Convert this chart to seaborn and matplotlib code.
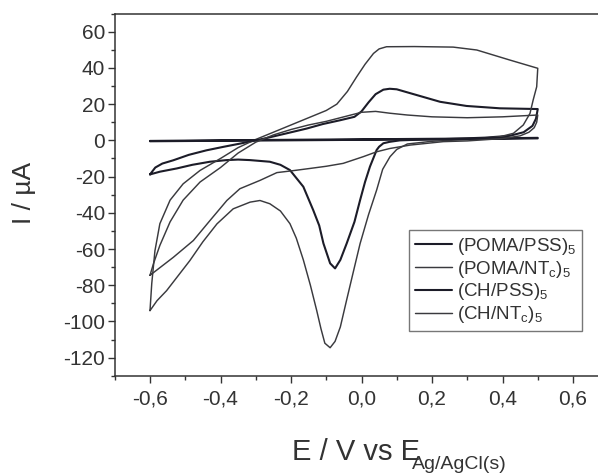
import numpy as np
import pandas as pd
import matplotlib
matplotlib.use("Agg")
import matplotlib.pyplot as plt
from matplotlib.ticker import MultipleLocator, FixedLocator, FuncFormatter
import seaborn as sns

# ---------------- data ----------------
# (POMA/PSS)5 : oxidation peak ~28 uA, reduction peak ~ -70 uA
poma_pss_E = [-0.60, -0.585, -0.565, -0.534, -0.49, -0.44, -0.39, -0.345, -0.30, -0.269,
              -0.21, -0.156, -0.11, -0.061, -0.02, 0.0, 0.02, 0.04, 0.062, 0.08, 0.10,
              0.157, 0.223, 0.298, 0.393, 0.50,
              0.495, 0.485, 0.46, 0.42, 0.35, 0.25, 0.138, 0.109, 0.08, 0.062, 0.05,
              0.043, 0.024, 0.01, -0.004, -0.02, -0.042, -0.06, -0.075, -0.089, -0.108,
              -0.12, -0.137, -0.165, -0.203, -0.23, -0.26, -0.316, -0.35, -0.383, -0.43,
              -0.48, -0.524, -0.572, -0.60]
poma_pss_I = [-18.8, -15.0, -12.8, -11.0, -8.0, -5.5, -3.5, -1.8, 0.0, 1.3,
              4.0, 6.5, 9.0, 11.1, 13.0, 16.0, 21.0, 25.5, 28.0, 28.5, 28.2,
              25.0, 21.3, 19.0, 17.7, 17.3,
              12.0, 8.0, 4.5, 2.5, 1.5, 0.8, 0.2, 0.0, -0.8, -1.6, -3.5,
              -5.3, -14.5, -23.0, -33.0, -45.0, -56.9, -66.0, -70.7, -67.9, -56.9,
              -47.0, -38.5, -25.6, -16.4, -13.5, -11.8, -10.9, -10.6, -10.9, -11.8,
              -13.5, -15.5, -17.3, -18.8]

# (POMA/NTc)5 : plateau ~52 uA, reduction peak ~ -114 uA
poma_nt_E = [-0.60, -0.595, -0.586, -0.572, -0.543, -0.506, -0.458, -0.40, -0.35, -0.30,
             -0.25, -0.20, -0.15, -0.10, -0.07, -0.04, -0.014, 0.01, 0.034, 0.05, 0.071,
             0.15, 0.26, 0.327, 0.42, 0.50,
             0.497, 0.487, 0.478, 0.459, 0.431, 0.393, 0.30, 0.20, 0.13, 0.10, 0.081,
             0.06, 0.043, 0.02, -0.004, -0.02, -0.042, -0.06, -0.075, -0.089, -0.104,
             -0.115, -0.127, -0.145, -0.165, -0.185, -0.203, -0.23, -0.26, -0.288,
             -0.316, -0.364, -0.41, -0.45, -0.487, -0.553, -0.58, -0.60]
poma_nt_I = [-94.0, -79.0, -61.0, -46.0, -33.0, -24.0, -16.6, -10.0, -4.0, 0.5,
             4.5, 8.5, 12.5, 16.5, 20.0, 27.0, 35.0, 42.0, 48.0, 50.5, 51.7,
             51.8, 51.5, 49.9, 44.4, 39.8,
             29.6, 22.3, 14.9, 8.5, 3.9, 2.0, 0.5, -0.5, -2.0, -5.0, -9.0,
             -16.0, -27.4, -41.0, -57.0, -70.0, -88.0, -103.0, -111.0, -114.5, -112.0,
             -104.0, -94.0, -80.0, -66.0, -54.0, -46.0, -39.0, -35.0, -33.2,
             -34.1, -37.8, -46.1, -56.0, -66.4, -83.0, -88.5, -94.0]

# (CH/PSS)5 : practically flat
ch_pss_E = [-0.60, -0.30, 0.0, 0.30, 0.50, 0.50, 0.30, 0.0, -0.30, -0.60]
ch_pss_I = [-0.3, 0.2, 0.6, 1.0, 1.4, 1.1, 0.7, 0.3, -0.1, -0.5]

# (CH/NTc)5 : small capacitive loop
ch_nt_E = [-0.60, -0.59, -0.572, -0.543, -0.506, -0.458, -0.40, -0.35, -0.30, -0.25,
           -0.20, -0.15, -0.10, -0.05, 0.0, 0.04, 0.08, 0.13, 0.20, 0.30, 0.40, 0.50,
           0.497, 0.49, 0.475, 0.45, 0.40, 0.30, 0.232, 0.138, 0.08, 0.043, 0.005,
           -0.052, -0.10, -0.146, -0.193, -0.24, -0.288, -0.345, -0.382, -0.43,
           -0.477, -0.534, -0.57, -0.60]
ch_nt_I = [-74.5, -68.0, -58.0, -45.0, -33.0, -23.0, -15.0, -7.0, -1.0, 3.0,
           6.0, 8.5, 10.5, 13.0, 15.5, 16.0, 15.0, 14.0, 13.0, 12.5, 13.0, 14.0,
           10.0, 7.0, 4.5, 2.5, 1.0, -0.3, -0.7, -2.6, -4.5, -6.3, -9.0,
           -12.7, -14.3, -15.5, -16.7, -17.8, -22.1, -26.7, -33.2, -44.3,
           -55.3, -64.6, -70.0, -74.5]

series_labels = ["(POMA/PSS)$_5$", "(POMA/NT$_c$)$_5$", "(CH/PSS)$_5$", "(CH/NT$_c$)$_5$"]
series_E = [poma_pss_E, poma_nt_E, ch_pss_E, ch_nt_E]
series_I = [poma_pss_I, poma_nt_I, ch_pss_I, ch_nt_I]

x_ticks = [-0.6, -0.4, -0.2, 0.0, 0.2, 0.4, 0.6]
y_ticks = [-120, -100, -80, -60, -40, -20, 0, 20, 40, 60]

# ---------------- style ----------------
sns.set_style("ticks")
plt.rcParams["font.family"] = ["Liberation Sans", "DejaVu Sans"]
plt.rcParams["mathtext.fontset"] = "custom"
plt.rcParams["mathtext.rm"] = "Liberation Sans"
plt.rcParams["mathtext.it"] = "Liberation Sans"
plt.rcParams["mathtext.default"] = "regular"
plt.rcParams["axes.unicode_minus"] = False

W, H = 598, 473
fig = plt.figure(figsize=(W / 100, H / 100), dpi=100)
fig.patch.set_facecolor("white")
ax_l, ax_r, ax_t, ax_b = 114.75, 608.25, 13.6, 375.8
ax = fig.add_axes([ax_l / W, 1 - ax_b / H, (ax_r - ax_l) / W, (ax_b - ax_t) / H])
ax.set_facecolor("white")

styles = [
    dict(color="#1c1c28", linewidth=1.5),
    dict(color="#3a3a3e", linewidth=1.05),
    dict(color="#1c1c28", linewidth=1.5),
    dict(color="#3a3a3e", linewidth=1.05),
]

frames = []
for lab, E, I in zip(series_labels, series_E, series_I):
    frames.append(pd.DataFrame({"E": E, "I": I, "film": lab}))
df = pd.concat(frames, ignore_index=True)

for lab, st in zip(series_labels, styles):
    sub = df[df["film"] == lab]
    sns.lineplot(data=sub, x="E", y="I", sort=False, estimator=None, ax=ax,
                 label=lab, **st)

ax.set_xlim(-0.7, 0.7)
ax.set_ylim(-130, 70)

ax.xaxis.set_major_locator(FixedLocator(x_ticks))
ax.xaxis.set_minor_locator(MultipleLocator(0.1))
ax.yaxis.set_major_locator(FixedLocator(y_ticks))
ax.yaxis.set_minor_locator(MultipleLocator(10))
ax.xaxis.set_major_formatter(FuncFormatter(lambda v, p: f"{v:.1f}".replace(".", ",").replace("-0,0", "0,0")))
ax.yaxis.set_major_formatter(FuncFormatter(lambda v, p: f"{v:.0f}"))

for s in ax.spines.values():
    s.set_color("#333333")
    s.set_linewidth(1.1)
ax.tick_params(axis="both", which="major", direction="out", length=5, width=1.0,
               color="#333333", labelsize=15, labelcolor="#333333")
ax.tick_params(axis="both", which="minor", direction="out", length=3, width=1.0, color="#333333")
ax.tick_params(axis="y", which="major", pad=2)
ax.tick_params(axis="x", which="major", pad=5)

ax.set_xlabel("E / V vs E", fontsize=21, color="#333333")
ax.xaxis.set_label_coords((356 - ax_l) / (ax_r - ax_l), (ax_b - 438) / (ax_b - ax_t))
ax.text((412 - ax_l) / (ax_r - ax_l), (ax_b - 469) / (ax_b - ax_t), "Ag/AgCl(s)",
        transform=ax.transAxes, fontsize=14, color="#333333", ha="left", va="baseline",
        clip_on=False)
ax.set_ylabel("I / µA", fontsize=19, color="#333333")
ax.yaxis.set_label_coords((36 - ax_l) / (ax_r - ax_l), (ax_b - 193) / (ax_b - ax_t))

leg = ax.legend(loc="upper left",
                bbox_to_anchor=((409 - ax_l) / (ax_r - ax_l), (ax_b - 230) / (ax_b - ax_t)),
                fontsize=13.5, frameon=True, fancybox=False, handlelength=2.0,
                handletextpad=0.25, labelspacing=0.1, borderpad=0.3, borderaxespad=0)
leg.get_frame().set_edgecolor("#555555")
leg.get_frame().set_linewidth(1.0)
for t in leg.get_texts():
    t.set_color("#333333")

fig.savefig("out.png", dpi=100, facecolor="white")
